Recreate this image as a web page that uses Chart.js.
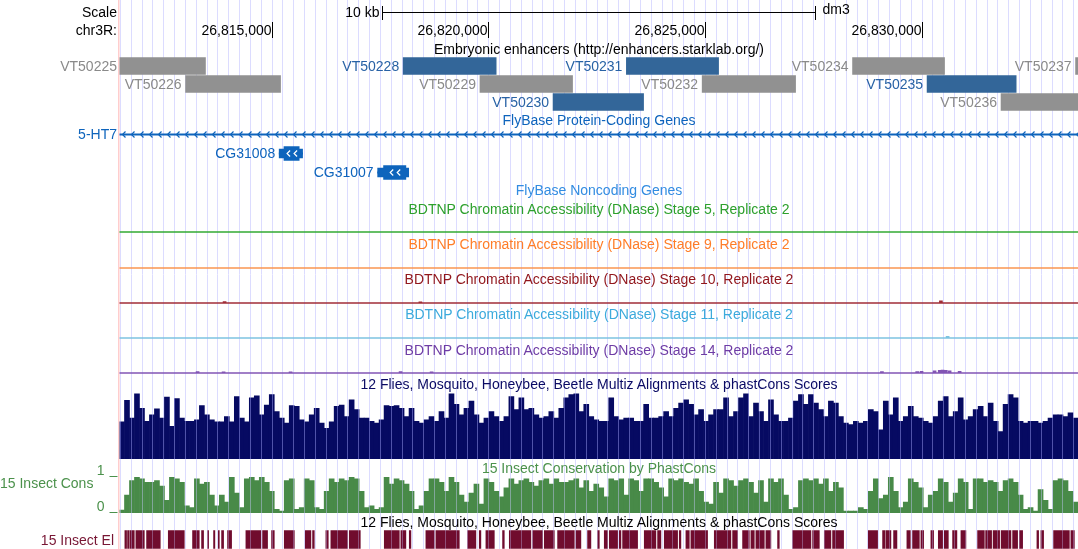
<!DOCTYPE html>
<html>
<head>
<meta charset="utf-8">
<title>chr3R:26,811,490-26,833,611 (dm3)</title>
<script src="https://cdn.jsdelivr.net/npm/chart.js@4.4.0/dist/chart.umd.min.js"></script>
<style>
    body { margin: 0; background: #fff; }
    #browser { position: relative; width: 1078px; height: 549px; overflow: hidden; background: #fff;
               font-family: "Liberation Sans", Arial, sans-serif; font-size: 14px; }
    #browser canvas { position: absolute; left: 0; }
    .lbl { position: absolute; white-space: nowrap; height: 16px; line-height: 16px; }
</style>
</head>
<body>
<div id="browser"></div>
<script>
// ---- window shown (dm3, chr3R) ----
const viewStart = 26811490;
const viewEnd = 26833611;
const rulerTicks = [26815000, 26820000, 26825000, 26830000];
const scaleBarKb = 10;
const genomeDb = 'dm3';

// ---- Embryonic enhancers (starklab) ----
const enhancerNames  = ['VT50225', 'VT50226', 'VT50228', 'VT50229', 'VT50230', 'VT50231', 'VT50232', 'VT50234', 'VT50235', 'VT50236', 'VT50237'];
const enhancerStart  = [26811330, 26813015, 26818037, 26819809, 26821496, 26823188, 26824937, 26828408, 26830128, 26831835, 26833555];
const enhancerEnd    = [26813474, 26815207, 26820183, 26821946, 26823585, 26825316, 26827093, 26830531, 26832184, 26833990, 26835700];
const enhancerRow    = ['1', '2', '1', '2', '3', '1', '2', '1', '2', '3', '1'];
const enhancerActive = [false, false, true, false, true, true, false, false, true, false, false];

// ---- FlyBase protein-coding genes ----
const geneNames   = ['5-HT7', 'CG31008', 'CG31007'];
const geneTxStart = [26790000, 26815175, 26817448];   // 5-HT7 runs past both edges
const geneTxEnd   = [26860000, 26815715, 26818164];
const geneCdsStart = [null, 26815286, 26817584];
const geneCdsEnd   = [null, 26815637, 26818099];

// ---- BDTNP DNase accessibility (only tiny bumps in this window) ----
const dnaseStages = ['5', '9', '10', '11', '14'];
const dnasePeakPos = [
    [],
    [],
    [26813915, 26818434, 26830447],
    [26830602],
    [26813292, 26813892, 26815438, 26817977, 26818693, 26829086, 26829900, 26830000, 26830301, 26830420, 26830486, 26830560, 26830648, 26830879]
];
const dnasePeakVal = [
    [],
    [],
    [0.06, 0.05, 0.1],
    [0.08],
    [0.06, 0.05, 0.05, 0.06, 0.05, 0.06, 0.07, 0.08, 0.1, 0.12, 0.13, 0.12, 0.1, 0.08]
];

// ---- 12 flies multiz / phastCons scores (left to right, ~115 bp per value) ----
const multizVals = [
    0.57, 0.9, 0.63, 1.0, 0.78, 0.58, 0.68, 0.77, 0.63, 0.95, 0.5, 0.93, 0.63, 0.58, 0.58, 0.6, 0.82, 0.68, 0.6, 0.57,
    0.57, 0.65, 0.57, 0.96, 0.63, 0.57, 0.94, 0.97, 0.68, 0.83, 0.99, 0.73, 0.63, 0.55, 0.82, 0.81, 0.6, 0.57, 0.68, 0.78,
    0.55, 0.47, 0.57, 0.81, 0.83, 0.65, 0.91, 0.76, 0.63,
    0.63, 0.58, 0.55, 0.6, 0.82, 0.81, 0.82, 0.78, 0.65, 0.78, 0.58, 0.55, 0.6, 0.65, 0.58, 0.73, 0.63, 1.0, 0.84, 0.68,
    0.78, 0.89, 0.68, 0.55, 0.63, 0.73, 0.65, 0.58, 0.65, 0.96, 0.76, 0.94, 0.76, 0.78, 0.68, 0.63, 0.65, 0.73, 0.63, 0.78,
    0.94, 0.99, 1.0, 0.73, 0.84, 0.65, 0.6, 0.58,
    0.58, 0.94, 0.65, 0.6, 0.63, 0.63, 0.58, 0.58, 0.84, 0.63, 0.63, 0.65, 0.73, 0.65, 0.78, 0.86, 0.91, 0.84, 0.68, 0.76,
    0.58, 0.68, 0.76, 0.76, 0.94, 0.65, 0.73, 0.94, 1.0, 0.65, 0.86, 0.73, 0.58, 0.91, 0.68, 0.58, 0.58, 0.63, 0.89, 0.99,
    0.84, 0.99, 0.86, 0.76, 0.65, 0.89, 0.86, 0.65,
    0.55, 0.53, 0.58, 0.55, 0.58, 0.76, 0.73, 0.45, 0.89, 0.68, 0.94, 0.58, 0.65, 0.81, 0.65, 0.63, 0.58, 0.55, 0.65, 0.89,
    0.96, 0.65, 0.73, 0.94, 0.6, 0.65, 0.76, 0.81, 0.65, 0.86, 0.58, 0.42, 0.84, 0.99, 0.94, 0.58, 0.55, 0.58, 0.58, 0.55,
    0.58, 0.63, 0.68, 0.68, 0.65, 0.71, 0.63
];

// ---- 15 insect phastCons (0..1) ----
const consVals = [
    0.08, 0.5, 0.9, 1.0, 0.95, 0.85, 0.85, 0.9, 0.75, 0.35, 1.0, 0.95, 0.85, 0.2, 0.15, 0.95, 0.8, 0.85, 0.5, 0.2,
    0.5, 0.3, 1.0, 0.55, 0.15, 0.95, 1.0, 0.9, 1.0, 0.85, 0.6, 0.1, 0.05, 0.9, 0.95, 0.1, 0.15, 0.95, 0.9, 0.15,
    0.1, 0.6, 0.95, 0.85, 0.95, 0.9, 1.0, 0.95, 0.6,
    0.15, 0.2, 0.1, 0.15, 1.0, 0.8, 0.95, 0.9, 0.8, 0.6, 0.1, 0.2, 0.6, 0.95, 0.95, 0.85, 0.6, 1.0, 0.85, 0.5,
    0.3, 0.55, 0.8, 0.25, 0.95, 0.85, 0.6, 0.45, 0.7, 0.95, 0.8, 0.9, 0.95, 0.85, 0.75, 0.9, 0.95, 0.8, 0.95, 0.85,
    0.85, 0.9, 0.95, 0.7, 0.9, 0.6, 0.8, 0.7,
    0.45, 0.95, 0.9, 0.95, 0.5, 0.95, 0.9, 0.6, 0.95, 0.95, 0.85, 0.7, 0.45, 0.95, 0.9, 0.95, 0.85, 0.8, 0.95, 0.6,
    0.3, 0.25, 0.85, 0.55, 0.95, 0.9, 0.75, 0.9, 0.95, 0.85, 0.55, 0.9, 0.3, 0.95, 0.85, 0.95, 0.5, 0.1, 0.15, 0.9,
    0.95, 0.9, 0.95, 0.8, 0.95, 0.6, 0.85, 0.7,
    0.05, 0.05, 0.05, 0.15, 0.1, 0.6, 0.95, 0.4, 0.5, 1.0, 0.6, 0.15, 0.3, 0.95, 0.85, 0.7, 0.15, 0.5, 0.6, 0.95,
    0.85, 0.3, 0.55, 0.95, 0.85, 0.1, 0.95, 0.95, 0.85, 0.9, 0.85, 0.6, 0.9, 0.95, 0.85, 0.5, 0.1, 0.15, 0.05, 0.65,
    0.35, 0.1, 0.9, 0.95, 0.9, 0.6, 0.3
];
const consAxisTicks = [1, 0];

// ---- 15 insect conserved elements ----
const elemStart = [
    26811614, 26811676, 26811738, 26811868, 26812115, 26812616, 26813176, 26813384, 26813523, 26813661,
    26813770, 26813846, 26813984, 26814407, 26814792, 26815000, 26815293, 26815777, 26815946, 26816253,
    26816368, 26816793, 26817601, 26817984, 26818178, 26818561, 26818792, 26819523, 26819793, 26819946,
    26820331, 26820486, 26821024, 26821294, 26821601, 26822023, 26822293, 26822524, 26822678, 26822794,
    26823025, 26823101, 26823601, 26823909, 26824063, 26824409, 26824562, 26824677, 26825217, 26825640,
    26825870, 26826062, 26826177, 26826408, 26826678, 26827024, 26827486, 26827756, 26827947, 26828771,
    26829101, 26829178, 26829355, 26829662, 26829793, 26829986, 26830216, 26830387, 26830526, 26830717,
    26830909, 26831294, 26831479, 26831652, 26831837, 26832102, 26832257, 26832663, 26832755, 26833048,
    26833447
];
const elemEnd = [
    26811653, 26811715, 26811831, 26812062, 26812431, 26812985, 26813331, 26813430, 26813546, 26813691,
    26813793, 26813892, 26814077, 26814753, 26814907, 26815062, 26815524, 26815907, 26815985, 26816308,
    26816754, 26817047, 26817947, 26818099, 26818215, 26818755, 26819332, 26819715, 26819830, 26820140,
    26820370, 26820984, 26821255, 26821524, 26821986, 26822138, 26822369, 26822563, 26822755, 26822985,
    26823062, 26823447, 26823869, 26823985, 26824370, 26824446, 26824640, 26825062, 26825600, 26825755,
    26826025, 26826140, 26826371, 26826523, 26826717, 26827447, 26827641, 26827908, 26828201, 26828986,
    26829155, 26829293, 26829432, 26829741, 26829949, 26830048, 26830278, 26830486, 26830618, 26830816,
    26831024, 26831449, 26831617, 26831802, 26832063, 26832217, 26832333, 26832702, 26832817, 26833411,
    26833526
];


// ---- look ----
const FONT = '14px "Liberation Sans", Arial, sans-serif';
const LEFT = 119.5;          // width of the label column
const guideStep = 250;       // bp between blue guidelines
const guideColor = 'rgb(220,220,255)';
const grayBar = 'rgb(145,145,145)', grayText = 'rgb(138,138,138)';
const blueBar = 'rgb(51,102,153)', blueText = 'rgb(40,98,165)';
const geneColor = 'rgb(14,100,188)';
const noncodingColor = 'rgb(50,140,225)';
const dnaseText = ['rgb(45,160,45)', 'rgb(255,125,40)', 'rgb(145,22,28)', 'rgb(60,170,220)', 'rgb(110,60,165)'];
const dnaseLine = ['rgb(50,170,50)', 'rgb(250,150,80)', 'rgb(160,45,55)', 'rgb(125,195,225)', 'rgb(130,85,180)'];
const navy = 'rgb(6,10,98)';
const consGreen = 'rgb(72,138,72)', consText = 'rgb(75,145,75)';
const elemColor = 'rgb(112,12,46)', elemText = 'rgb(120,22,52)';

Chart.defaults.font.family = '"Liberation Sans", Arial, sans-serif';
const browser = document.getElementById('browser');

function addCanvas(top, height) {
    const c = document.createElement('canvas');
    c.width = 1078;
    c.height = height;
    c.style.top = top + 'px';
    browser.appendChild(c);
    return c.getContext('2d');
}

function addText(text, x, y, align, color) {
    const d = document.createElement('div');
    d.className = 'lbl';
    d.textContent = text;
    d.style.color = color;
    d.style.top = (y - 8) + 'px';
    if (align === 'center') { d.style.left = (x - 500) + 'px'; d.style.width = '1000px'; d.style.textAlign = 'center'; }
    else if (align === 'right') { d.style.left = (x - 400) + 'px'; d.style.width = '400px'; d.style.textAlign = 'right'; }
    else { d.style.left = x + 'px'; }
    browser.appendChild(d);
}

function baseOptions(yScale, padTop, padBottom, extraPlugins) {
    return {
        responsive: false,
        animation: false,
        events: [],
        layout: { padding: { left: LEFT, right: 0, top: padTop, bottom: padBottom } },
        scales: {
            x: { type: 'linear', min: viewStart, max: viewEnd, display: false, offset: false },
            y: yScale
        },
        plugins: Object.assign({ legend: { display: false }, tooltip: { enabled: false } }, extraPlugins || {})
    };
}

function chevron(ctx, cx, cy) {
    ctx.beginPath();
    ctx.moveTo(cx + 2, cy - 3);
    ctx.lineTo(cx - 1, cy);
    ctx.lineTo(cx + 2, cy + 3);
    ctx.stroke();
}

function guidePixels(scale) {
    const out = [];
    for (let p = Math.ceil(viewStart / guideStep) * guideStep; p < viewEnd; p += guideStep) {
        out.push(Math.round(scale.getPixelForValue(p)) + 0.5);
    }
    return out;
}

// lighter streaks where the guidelines cross filled graphs
const streakPlugin = {
    id: 'streaks',
    afterDatasetsDraw(chart, args, opts) {
        const { ctx, scales: { x } } = chart;
        ctx.save();
        ctx.globalCompositeOperation = 'source-atop';
        ctx.strokeStyle = opts.color;
        ctx.lineWidth = 1;
        guidePixels(x).forEach(px => {
            ctx.beginPath();
            ctx.moveTo(px, 0);
            ctx.lineTo(px, chart.height);
            ctx.stroke();
        });
        ctx.restore();
    }
};

// background: guidelines, left border, scale bar and base-position ruler
const rulerPlugin = {
    id: 'ruler',
    afterDraw(chart) {
        const { ctx, chartArea, scales: { x } } = chart;
        ctx.save();
        ctx.strokeStyle = guideColor;
        ctx.lineWidth = 1;
        guidePixels(x).forEach(px => {
            ctx.beginPath(); ctx.moveTo(px, 0); ctx.lineTo(px, chart.height); ctx.stroke();
        });
        ctx.strokeStyle = 'rgb(255,205,205)';
        ctx.lineWidth = 1.5;
        ctx.beginPath(); ctx.moveTo(chartArea.left - 0.75, 0); ctx.lineTo(chartArea.left - 0.75, chart.height); ctx.stroke();

        const mid = (viewStart + viewEnd) / 2;
        const x0 = Math.round(x.getPixelForValue(mid - scaleBarKb * 500)) + 0.5;
        const x1 = Math.round(x.getPixelForValue(mid + scaleBarKb * 500)) + 0.5;
        ctx.strokeStyle = '#000';
        ctx.lineWidth = 1;
        ctx.beginPath();
        ctx.moveTo(x0, 12.5); ctx.lineTo(x1, 12.5);
        ctx.moveTo(x0, 6); ctx.lineTo(x0, 20);
        ctx.moveTo(x1, 6); ctx.lineTo(x1, 20);
        ctx.stroke();
        ctx.font = FONT;
        ctx.fillStyle = '#000';
        ctx.textBaseline = 'middle';
        ctx.textAlign = 'right';
        ctx.fillText(scaleBarKb + ' kb', x0 - 3, 13);
        ctx.textAlign = 'left';
        ctx.fillText(genomeDb, x1 + 7, 10);

        ctx.textAlign = 'right';
        rulerTicks.forEach(t => {
            const px = Math.round(x.getPixelForValue(t)) + 0.5;
            ctx.beginPath(); ctx.moveTo(px, 22); ctx.lineTo(px, 38); ctx.stroke();
            ctx.fillText(t.toLocaleString('en-US'), px - 1, 31);
        });
        ctx.restore();
    }
};

new Chart(addCanvas(0, 549), {
    type: 'scatter',
    data: { datasets: [] },
    options: baseOptions({ display: false, min: 0, max: 1 }, 0, 0),
    plugins: [rulerPlugin]
});

// ---- enhancers ----
const enhancerLabelPlugin = {
    id: 'enhancerLabels',
    afterDatasetsDraw(chart) {
        const { ctx, chartArea } = chart;
        ctx.save();
        ctx.font = FONT;
        ctx.textAlign = 'right';
        ctx.textBaseline = 'middle';
        chart.getDatasetMeta(0).data.forEach((bar, i) => {
            const left = Math.min(bar.x, bar.base);
            const tx = left < chartArea.left ? chartArea.left - 2.5 : left - 4;
            ctx.fillStyle = enhancerActive[i] ? blueText : grayText;
            ctx.fillText(enhancerNames[i], tx, bar.y + 1);
        });
        ctx.restore();
    }
};

new Chart(addCanvas(57, 54), {
    type: 'bar',
    data: {
        datasets: [{
            data: enhancerNames.map((n, i) => ({ x: [enhancerStart[i], enhancerEnd[i]], y: enhancerRow[i] })),
            backgroundColor: enhancerNames.map((n, i) => enhancerActive[i] ? blueBar : grayBar),
            barThickness: 17,
            borderWidth: 0
        }]
    },
    options: Object.assign(baseOptions({ type: 'category', labels: ['1', '2', '3'], display: false }, 0, 0), { indexAxis: 'y' }),
    plugins: [enhancerLabelPlugin]
});

// ---- genes ----
const genePlugin = {
    id: 'geneLabels',
    afterDatasetsDraw(chart) {
        const { ctx, chartArea, scales: { x } } = chart;
        ctx.save();
        ctx.font = FONT;
        ctx.textAlign = 'right';
        ctx.textBaseline = 'middle';
        ctx.lineWidth = 1.2;
        chart.getDatasetMeta(0).data.forEach((bar, i) => {
            const left = x.getPixelForValue(geneTxStart[i]);
            const right = x.getPixelForValue(geneTxEnd[i]);
            ctx.fillStyle = geneColor;
            ctx.fillText(geneNames[i], left < chartArea.left ? chartArea.left - 2.5 : left - 4, bar.y + 1);
            if (geneCdsStart[i] === null) {
                ctx.strokeStyle = geneColor;
                const a = Math.max(left, chartArea.left) + 4;
                const b = Math.min(right, chartArea.right);
                for (let cx = a; cx < b; cx += 9) chevron(ctx, cx, bar.y);
            } else {
                ctx.strokeStyle = '#fff';
                const c = (x.getPixelForValue(geneCdsStart[i]) + x.getPixelForValue(geneCdsEnd[i])) / 2;
                chevron(ctx, c - 3.5, bar.y);
                chevron(ctx, c + 3.5, bar.y);
            }
        });
        ctx.restore();
    }
};

const codingIdx = geneNames.map((n, i) => i).filter(i => geneCdsStart[i] !== null);
new Chart(addCanvas(125, 57), {
    type: 'bar',
    data: {
        datasets: [
            { data: geneNames.map((n, i) => ({ x: [geneTxStart[i], geneTxEnd[i]], y: n })),
              backgroundColor: geneColor, barThickness: 1.5, grouped: false },
            { data: codingIdx.map(i => ({ x: [geneTxStart[i], geneTxEnd[i]], y: geneNames[i] })),
              backgroundColor: geneColor, barThickness: 9, grouped: false },
            { data: codingIdx.map(i => ({ x: [geneCdsStart[i], geneCdsEnd[i]], y: geneNames[i] })),
              backgroundColor: geneColor, barThickness: 14, grouped: false }
        ]
    },
    options: Object.assign(baseOptions({ type: 'category', labels: geneNames, display: false }, 0, 0), { indexAxis: 'y' }),
    plugins: [genePlugin]
});

// ---- DNase accessibility tracks ----
const dnaseFirstLine = 232.3, dnaseGap = 35.2;
dnaseStages.forEach((stage, k) => {
    const lineY = dnaseFirstLine + k * dnaseGap;
    const top = Math.round(lineY) - 22;
    new Chart(addCanvas(top, 25), {
        type: 'bar',
        data: {
            datasets: [
                { type: 'line', data: [{ x: viewStart, y: 0 }, { x: viewEnd, y: 0 }],
                  borderColor: dnaseLine[k], borderWidth: 1.6, pointRadius: 0, clip: false },
                { type: 'bar', data: dnasePeakPos[k].map((p, i) => ({ x: p, y: dnasePeakVal[k][i] })),
                  backgroundColor: dnaseLine[k], barThickness: 3 }
            ]
        },
        options: baseOptions({ display: false, min: 0, max: 1 }, 0, 3)
    });
});

// ---- multiz / phastCons scores ----
const multizStep = (viewEnd - viewStart) / multizVals.length;
new Chart(addCanvas(390, 70), {
    type: 'bar',
    data: {
        datasets: [{
            data: multizVals.map((v, i) => ({ x: viewStart + (i + 0.5) * multizStep, y: v })),
            backgroundColor: navy,
            barPercentage: 1,
            categoryPercentage: 1,
            borderWidth: 0
        }]
    },
    options: baseOptions({ display: false, min: 0, max: 1.06 }, 0, 1, { streaks: { color: 'rgba(170,170,255,0.45)' } }),
    plugins: [streakPlugin]
});

// ---- 15 insect conservation ----
const consLabelPlugin = {
    id: 'consLabels',
    afterDraw(chart) {
        const { ctx, chartArea, scales: { y } } = chart;
        ctx.save();
        ctx.font = FONT;
        ctx.fillStyle = consText;
        ctx.strokeStyle = consText;
        ctx.lineWidth = 1;
        ctx.textAlign = 'right';
        ctx.textBaseline = 'alphabetic';
        consAxisTicks.forEach(v => {
            const py = Math.round(y.getPixelForValue(v)) - 0.5;
            ctx.fillText(String(v), chartArea.left - 15, py - 2);
            ctx.beginPath(); ctx.moveTo(chartArea.left - 10, py); ctx.lineTo(chartArea.left - 2, py); ctx.stroke();
        });
        ctx.restore();
    }
};

const consStep = (viewEnd - viewStart) / consVals.length;
new Chart(addCanvas(458, 56), {
    type: 'bar',
    data: {
        datasets: [{
            data: consVals.map((v, i) => ({ x: viewStart + (i + 0.5) * consStep, y: v })),
            backgroundColor: consGreen,
            barPercentage: 1,
            categoryPercentage: 1,
            borderWidth: 0
        }]
    },
    options: baseOptions({ display: false, min: 0, max: 1 }, 19, 1, { streaks: { color: 'rgba(200,200,255,0.45)' } }),
    plugins: [streakPlugin, consLabelPlugin]
});

// ---- conserved elements ----
new Chart(addCanvas(530, 19), {
    type: 'bar',
    data: {
        datasets: [{
            data: elemStart.map((s, i) => ({ x: [s, elemEnd[i]], y: 'el' })),
            backgroundColor: elemColor,
            barThickness: 18,
            borderWidth: 0
        }]
    },
    options: Object.assign(baseOptions({ type: 'category', labels: ['el'], display: false }, 0, 0,
        { streaks: { color: 'rgba(200,200,255,0.35)' } }), { indexAxis: 'y' }),
    plugins: [streakPlugin]
});

// ---- track titles and side labels ----
const mid = 599;
addText('Scale', 117, 12, 'right', '#000');
addText('chr3R:', 117, 30, 'right', '#000');
addText('Embryonic enhancers (http://enhancers.starklab.org/)', mid, 49, 'center', '#000');
addText('FlyBase Protein-Coding Genes', mid, 120, 'center', geneColor);
addText('FlyBase Noncoding Genes', mid, 190, 'center', noncodingColor);
dnaseStages.forEach((stage, k) => {
    addText('BDTNP Chromatin Accessibility (DNase) Stage ' + stage + ', Replicate 2',
        mid, dnaseFirstLine + k * dnaseGap - 23.5, 'center', dnaseText[k]);
});
addText('12 Flies, Mosquito, Honeybee, Beetle Multiz Alignments & phastCons Scores', mid, 384, 'center', 'rgb(10,10,100)');
addText('15 Insect Conservation by PhastCons', mid, 468, 'center', consText);
addText('12 Flies, Mosquito, Honeybee, Beetle Multiz Alignments & phastCons Scores', mid, 522, 'center', '#000');
addText('15 Insect Cons', 0, 483, 'left', consText);
addText('15 Insect El', 114, 540, 'right', elemText);
</script>
</body>
</html>
